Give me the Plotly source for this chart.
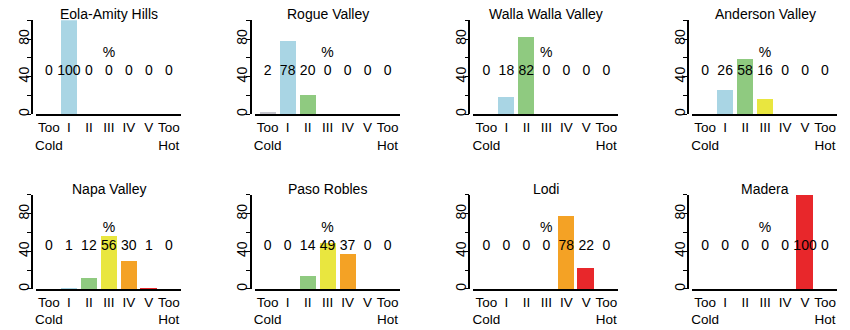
import plotly.graph_objects as go

W, H = 850, 330

regions = ["Eola-Amity Hills", "Rogue Valley", "Walla Walla Valley", "Anderson Valley",
           "Napa Valley", "Paso Robles", "Lodi", "Madera"]
classes = ["Too<br>Cold", "I", "II", "III", "IV", "V", "Too<br>Hot"]
eola = [0, 100, 0, 0, 0, 0, 0]
rogue = [2, 78, 20, 0, 0, 0, 0]
walla = [0, 18, 82, 0, 0, 0, 0]
anderson = [0, 26, 58, 16, 0, 0, 0]
napa = [0, 1, 12, 56, 30, 1, 0]
paso = [0, 0, 14, 49, 37, 0, 0]
lodi = [0, 0, 0, 0, 78, 22, 0]
madera = [0, 0, 0, 0, 0, 100, 0]
series = [eola, rogue, walla, anderson, napa, paso, lodi, madera]
colors = ["#c4c4cc", "#a9d5e4", "#8fca80", "#e9e63f", "#f4a225", "#e8272b", "#a01010"]

FONT = "Liberation Sans, Arial"

# layout (pixels)
col_axis_px = [31, 250, 469, 688]
row_zero_px = [115, 290.7]
px_per_unit = 0.946
bar0_rel = 17.0
bar_step = 20.0
x_line_left, x_line_right = 4.0, 149.0
title_above_px = 101.0

fig = go.Figure()
layout = {}
annotations = []
xs = list(range(7))

for i, (name, vals) in enumerate(zip(regions, series)):
    r, c = divmod(i, 4)
    n = i + 1
    xa = "xaxis" if n == 1 else f"xaxis{n}"
    ya = "yaxis" if n == 1 else f"yaxis{n}"
    xr = "x" if n == 1 else f"x{n}"
    yr = "y" if n == 1 else f"y{n}"
    A = col_axis_px[c]
    y0 = row_zero_px[r]
    y100 = y0 - 100 * px_per_unit

    fig.add_trace(go.Bar(x=xs, y=vals, marker=dict(color=colors, line=dict(width=0)),
                         width=0.84, xaxis=xr, yaxis=yr, showlegend=False, hoverinfo="skip"))
    fig.add_trace(go.Scatter(x=xs, y=[45] * 7, mode="text", text=[str(v) for v in vals],
                             textfont=dict(family=FONT, size=14, color="black"),
                             textposition="middle center", xaxis=xr, yaxis=yr,
                             showlegend=False, hoverinfo="skip", cliponaxis=False))
    fig.add_trace(go.Scatter(x=[3], y=[64.5], mode="text", text=["%"],
                             textfont=dict(family=FONT, size=14, color="black"),
                             textposition="middle center", xaxis=xr, yaxis=yr,
                             showlegend=False, hoverinfo="skip", cliponaxis=False))

    xlo = (x_line_left - bar0_rel) / bar_step
    xhi = (x_line_right - bar0_rel) / bar_step
    layout[xa] = dict(domain=[(A + x_line_left) / W, (A + x_line_right) / W],
                      range=[xlo, xhi], anchor=yr, showline=True, linecolor="black",
                      linewidth=1.6, showgrid=False, zeroline=False,
                      tickmode="array", tickvals=xs, ticktext=classes, ticks="",
                      tickangle=0,
                      tickfont=dict(family=FONT, size=13.5, color="black"),
                      fixedrange=True)
    layout[ya] = dict(domain=[1 - y0 / H, 1 - y100 / H], range=[0, 100],
                      anchor="free", position=A / W,
                      showline=True, linecolor="black", linewidth=1.6,
                      showgrid=False, zeroline=False, ticks="outside", ticklen=4,
                      tickwidth=1, tickcolor="black",
                      tickmode="array", tickvals=[0, 20, 40, 60, 80, 100],
                      ticktext=["0", "", "40", "", "80", ""], tickangle=-90,
                      ticklabelstandoff=-7,
                      tickfont=dict(family=FONT, size=14, color="black"),
                      fixedrange=True)
    # title centred over the bars
    tx_px = A + bar0_rel + 3 * bar_step
    ty_px = y0 - title_above_px
    annotations.append(dict(text=name, xref="paper", yref="paper",
                            x=tx_px / W, y=1 - ty_px / H,
                            xanchor="center", yanchor="middle", showarrow=False,
                            font=dict(family=FONT, size=14, color="black")))

fig.update_layout(width=W, height=H, margin=dict(l=0, r=0, t=0, b=0),
                  paper_bgcolor="white", plot_bgcolor="white",
                  annotations=annotations, bargap=0, **layout)
fig.write_html("out.html")
